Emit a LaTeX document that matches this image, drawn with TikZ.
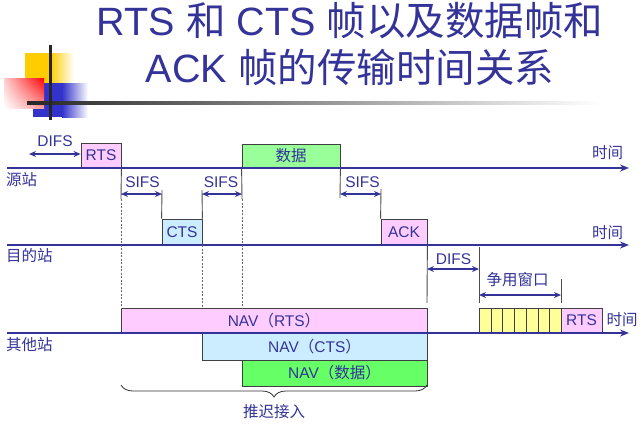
\documentclass[tikz,border=0pt]{standalone}
\usepackage{fontspec}
\setmainfont{Liberation Sans}
\newfontfamily\cjk{Noto Sans CJK SC}
\usetikzlibrary{arrows.meta,decorations.pathreplacing,calc,shadings}
\definecolor{ink}{HTML}{333399}
\definecolor{pinkbox}{HTML}{FFCCFF}
\definecolor{greenbox}{HTML}{99FF99}
\definecolor{bluebox}{HTML}{CCECFF}
\definecolor{navgreen}{HTML}{66FF66}
\definecolor{yelbox}{HTML}{FFFF99}
\definecolor{logoy}{HTML}{FFCC00}
\definecolor{logob}{HTML}{3333CC}
\begin{document}
\begin{tikzpicture}[x=1pt,y=-1pt,
  lbl/.style={text=ink, font=\fontsize{15.5}{18}\selectfont, inner sep=0pt},
  titlestyle/.style={text=ink, font=\fontsize{39.5}{44}\selectfont, inner sep=0pt, anchor=base},
  box/.style={draw=black!75, line width=0.8pt, inner sep=0pt, text=ink, font=\fontsize{15.5}{18}\selectfont},
  timeline/.style={draw=ink, line width=2.2pt, -{Stealth[length=9pt,width=7pt]}},
  dbl/.style={draw=ink, line width=1.6pt, {Stealth[length=7pt,width=6pt]}-{Stealth[length=7pt,width=6pt]}},
  vline/.style={draw=black!70, line width=0.9pt},
  dline/.style={draw=black!60, line width=0.8pt, dash pattern=on 2pt off 1.5pt},
  bracestyle/.style={draw=black!80, line width=0.8pt, decorate, decoration={brace, mirror, amplitude=12pt}},
]
\useasboundingbox (0,0) rectangle (641,424);
\fill[white] (0,0) rectangle (641,424);

% logo
\fill[logoy] (25,53) rectangle (50,83);
\shade[left color=logoy, right color=white] (50,53) rectangle (74,83);
\fill[logob] (33,83) rectangle (62,117);
\shade[left color=logob, right color=white] (62,83) rectangle (88,117);
\shade[upper right=red, upper left=red!20, lower right=red!40, lower left=white] (4,78) rectangle (44,108);
\shade[left color=black!85, right color=white] (27,101.5) rectangle (600,104.5);
\fill[black!85] (49,45) rectangle (51.5,120);

% title
\node[titlestyle] (title1) at (350,35) {RTS {\cjk 和} CTS {\cjk 帧以及数据帧和}};
\node[titlestyle] (title2) at (350,82) {ACK {\cjk 帧的传输时间关系}};

% boxes
\node[box, fill=pinkbox, minimum width=40pt, minimum height=25pt] (rts1) at (101,155.5) {RTS};
\node[box, fill=greenbox, minimum width=98pt, minimum height=24pt] (data) at (291,156) {\cjk 数据};
\node[box, fill=bluebox, minimum width=40pt, minimum height=26pt] (cts) at (182,232) {CTS};
\node[box, fill=pinkbox, minimum width=46pt, minimum height=26pt] (ack) at (404,232) {ACK};
\node[box, fill=pinkbox, minimum width=306pt, minimum height=25pt] (navrts) at (274,320.5) {NAV{\cjk （}RTS{\cjk ）}};
\node[box, fill=bluebox, minimum width=225pt, minimum height=27pt] (navcts) at (314.5,346.5) {NAV{\cjk （}CTS{\cjk ）}};
\node[box, fill=navgreen, minimum width=185pt, minimum height=26pt] (navdata) at (334.5,373) {NAV{\cjk （数据）}};
\foreach \i in {1,...,7}{
  \node[box, fill=yelbox, minimum width=11.714pt, minimum height=25pt, anchor=north west] (cw\i) at ({479+(\i-1)*11.714},308) {};
}
\node[box, fill=pinkbox, minimum width=41pt, minimum height=25pt] (rts2) at (581.5,320.5) {\raisebox{-5pt}{RTS}};

% timelines
\coordinate (t1s) at (7,168); \coordinate (t1e) at (629,168);
\coordinate (t2s) at (7,245); \coordinate (t2e) at (629,245);
\coordinate (t3s) at (7,333); \coordinate (t3e) at (629,333);
\draw[timeline] (t1s) -- (t1e);
\draw[timeline] (t2s) -- (t2e);
\draw[timeline] (t3s) -- (t3e);

% vertical guide lines
\coordinate (a1) at (121,199);
\draw[vline] (rts1.south east) -- (a1);
\draw[dline] (a1) -- (a1 |- navrts.north);
\coordinate (b1) at (162,190);
\draw[vline] (b1) -- (cts.north west);
\coordinate (b2) at (202,190);
\draw[vline] (b2) -- (cts.north east);
\draw[dline] (cts.south east) -- (cts.south east |- navrts.north);
\coordinate (a2) at (242,199);
\draw[vline] (data.south west) -- (a2);
\draw[dline] (a2) -- (a2 |- navrts.north);
\coordinate (a3) at (340,198);
\draw[vline] (data.south east) -- (a3);
\coordinate (b3) at (381,189);
\draw[vline] (b3) -- (ack.north west);
\coordinate (c1) at (427,303);
\draw[vline] (ack.south east) -- (c1);
\coordinate (c2) at (479,247); \coordinate (c3) at (479,303);
\draw[vline] (c2) -- (c3);
\coordinate (c4) at (561,279); \coordinate (c5) at (561,303);
\draw[vline] (c4) -- (c5);

% double arrows
\coordinate (d0) at (29,154);
\draw[dbl] (d0) -- (d0 -| rts1.west);
\coordinate (s1a) at (121,194); \coordinate (s1b) at (162,194);
\draw[dbl] (s1a) -- (s1b);
\coordinate (s2a) at (202,194); \coordinate (s2b) at (242,194);
\draw[dbl] (s2a) -- (s2b);
\coordinate (s3a) at (340,194); \coordinate (s3b) at (381,194);
\draw[dbl] (s3a) -- (s3b);
\coordinate (d2a) at (427,269); \coordinate (d2b) at (479,269);
\draw[dbl] (d2a) -- (d2b);
\coordinate (cwa) at (479,295); \coordinate (cwb) at (561,295);
\draw[dbl] (cwa) -- (cwb);

% brace
\coordinate (br1) at (121,385); \coordinate (br2) at (427,385);
\draw[bracestyle] (br1) -- (br2);

% labels
\node[lbl] (difs1) at (55,141) {DIFS};
\node[lbl] (sifs1) at (142.5,182) {SIFS};
\node[lbl] (sifs2) at (221,182) {SIFS};
\node[lbl] (sifs3) at (362.5,182) {SIFS};
\node[lbl] (difs2) at (453.5,259) {DIFS};
\node[lbl] (cwl) at (517.5,280) {\cjk 争用窗口};
\node[lbl] (defer) at (274,412) {\cjk 推迟接入};
\node[lbl, anchor=west] (src) at (6,180) {\cjk 源站};
\node[lbl, anchor=west] (dst) at (6,256) {\cjk 目的站};
\node[lbl, anchor=west] (oth) at (6,345) {\cjk 其他站};
\node[lbl] (time1) at (607.5,153) {\cjk 时间};
\node[lbl] (time2) at (607.5,233) {\cjk 时间};
\node[lbl] (time3) at (622,320) {\cjk 时间};
\end{tikzpicture}
\end{document}
